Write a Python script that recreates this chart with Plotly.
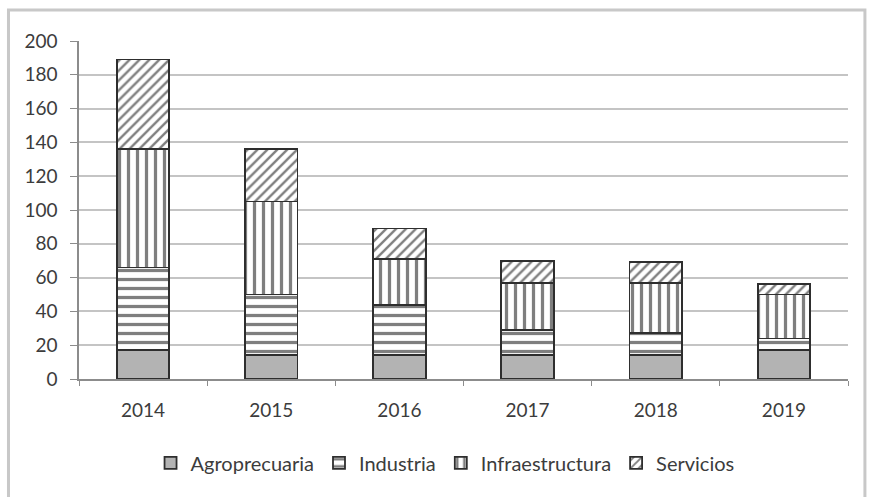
import plotly.graph_objects as go

years = ["2014", "2015", "2016", "2017", "2018", "2019"]
agro = [17, 14, 14, 14, 14, 17]
industria = [49, 36, 30, 15, 13, 7]
infraestructura = [70, 55, 27, 28, 30, 26]
servicios = [53, 31, 18, 13, 12, 6]

series = [
    ("Agroprecuaria", agro, dict(color="#b3b3b3")),
    ("Industria", industria, dict(color="white",
        pattern=dict(shape="-", fgcolor="black", bgcolor="white", size=9, solidity=0.36))),
    ("Infraestructura", infraestructura, dict(color="white",
        pattern=dict(shape="|", fgcolor="black", bgcolor="white", size=9, solidity=0.36))),
    ("Servicios", servicios, dict(color="white",
        pattern=dict(shape="/", fgcolor="black", bgcolor="white", size=7, solidity=0.34))),
]

fig = go.Figure()
for name, vals, mk in series:
    mk = dict(mk)
    mk["line"] = dict(color="#2e2e2e", width=1.8)
    fig.add_trace(go.Bar(name=name, x=years, y=vals, marker=mk, width=0.41))

fig.update_layout(
    barmode="stack",
    width=869, height=497,
    margin=dict(l=79, r=21, t=41, b=118),
    paper_bgcolor="white", plot_bgcolor="white",
    font=dict(family="Lato, Open Sans, sans-serif", size=19, color="#3c3c3c"),
    showlegend=True,
    legend=dict(orientation="h", x=0.476, xanchor="center", y=-0.248, yanchor="middle",
                font=dict(size=20, color="#3c3c3c"), traceorder="normal",
                itemwidth=30),
    xaxis=dict(showline=True, linecolor="#8c8c8c", linewidth=1.5,
               ticks="outside", tickson="boundaries", ticklen=5, tickcolor="#8c8c8c",
               ticklabelstandoff=13,
               showgrid=False, tickfont=dict(size=19, color="#3c3c3c")),
    yaxis=dict(range=[0, 200], dtick=20, showline=True, linecolor="#8c8c8c", linewidth=1.5,
               ticks="outside", ticklen=7, tickcolor="#8c8c8c",
               ticklabelstandoff=9,
               showgrid=True, gridcolor="#c4c4c4", gridwidth=2,
               zeroline=False, tickfont=dict(size=19, color="#3c3c3c")),
    shapes=[dict(type="rect", xref="paper", yref="paper",
                 x0=-0.0917, x1=1.022, y0=-0.5, y1=1.0917,
                 line=dict(color="#c8c8c8", width=3), layer="below")],
)

fig.write_html("out.html")
